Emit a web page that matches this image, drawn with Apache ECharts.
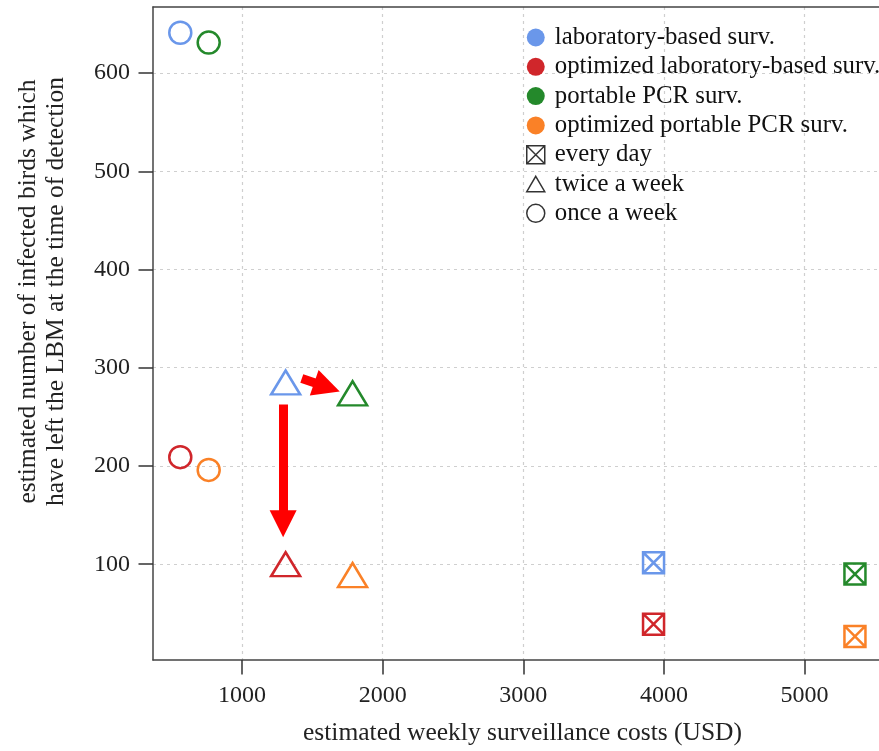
<!DOCTYPE html>
<html>
<head>
<meta charset="utf-8">
<script src="https://cdn.jsdelivr.net/npm/echarts@6/dist/echarts.min.js"></script>
<style>html,body{margin:0;padding:0;background:#fff;}#c{width:879px;height:751px;}</style>
</head>
<body>
<div id="c"></div>
<script>
// ---- data ----
var methods = ['laboratory-based surv.', 'optimized laboratory-based surv.', 'portable PCR surv.', 'optimized portable PCR surv.'];
var methodColors = ['#6a97ea', '#d0262b', '#24892b', '#fa8127'];
var frequencies = ['every day', 'twice a week', 'once a week'];
// [cost USD, infected birds left LBM] for [every day, twice a week, once a week]
var labBased      = [[3926, 101.5], [1310, 285], [561, 641]];
var optLabBased   = [[3926, 39],    [1310, 100], [561, 209]];
var portablePCR   = [[5358, 90],    [1786, 274], [763, 631]];
var optPortablePCR= [[5358, 26.5],  [1786, 89],  [763, 196]];
var xTicks = [1000, 2000, 3000, 4000, 5000];
var yTicks = [100, 200, 300, 400, 500, 600];
// arrows: [from, to] in data coordinates (to = centre of arrow head)
var arrowDown  = [[1292, 262.7], [1292, 141.2]];
var arrowRight = [[1425, 289.1], [1604, 280.3]];

var FONT = 'Liberation Serif';
var boxX = 'path://M0,0L20,0L20,20L0,20Z M0,0L20,20 M20,0L0,20';
var freqSymbols = [boxX, 'triangle', 'circle'];
var freqSizes = [21, [29, 24], 22];

function makeSeries(name, arr, color) {
  return {
    name: name, type: 'scatter',
    data: arr.map(function (p, i) {
      return { value: p, symbol: freqSymbols[i], symbolSize: freqSizes[i] };
    }),
    itemStyle: { color: 'rgba(0,0,0,0)', borderColor: color, borderWidth: 2.5, opacity: 1 },
    emphasis: { disabled: true },
    silent: true, z: 3
  };
}

var series = [
  makeSeries(methods[0], labBased, methodColors[0]),
  makeSeries(methods[1], optLabBased, methodColors[1]),
  makeSeries(methods[2], portablePCR, methodColors[2]),
  makeSeries(methods[3], optPortablePCR, methodColors[3])
];
frequencies.forEach(function (f) {
  series.push({ name: f, type: 'scatter', data: [], itemStyle: { color: 'rgba(0,0,0,0)', borderColor: '#000', borderWidth: 1.5 } });
});
series.push({
  type: 'scatter', data: [], silent: true,
  markLine: {
    silent: true, animation: false,
    symbol: ['none', 'triangle'],
    label: { show: false },
    emphasis: { disabled: true },
    data: [
      [{ coord: arrowDown[0], symbolSize: [27, 27], lineStyle: { width: 9 } }, { coord: arrowDown[1] }],
      [{ coord: arrowRight[0], symbolSize: [25, 26], lineStyle: { width: 9 } }, { coord: arrowRight[1] }]
    ],
    lineStyle: { color: '#ff0000', type: 'solid', width: 9, opacity: 1 },
    itemStyle: { color: '#ff0000' },
    symbolSize: [27, 27]
  }
});

var legendData = methods.map(function (m, i) {
  return { name: m, icon: 'circle', itemStyle: { color: methodColors[i], borderWidth: 0 } };
}).concat(frequencies.map(function (f, i) {
  return { name: f, icon: freqSymbols[i] === 'triangle' ? 'path://M10,0L20,17L0,17Z' : (freqSymbols[i] === 'circle' ? 'circle' : boxX),
           itemStyle: { color: 'rgba(0,0,0,0)', borderColor: '#000', borderWidth: 1.5 } };
}));

var axisLineStyle = { color: '#444', width: 1.5 };
var tickStyle = { show: true, inside: false, length: 14.5, lineStyle: { color: '#333', width: 1.5 } };
var splitStyle = { show: true, lineStyle: { color: '#cfcfcf', width: 1.2, type: [3, 4] } };
var plainNum = function (v) { return String(v); };

var chart = echarts.init(document.getElementById('c'), null, { renderer: 'canvas' });
chart.setOption({
  animation: false,
  backgroundColor: '#fff',
  grid: { left: 153, top: 7, right: 0, bottom: 85, show: false, containLabel: false },
  xAxis: [{
    type: 'value', position: 'bottom',
    min: 367, max: 5529,
    name: 'estimated weekly surveillance costs (USD)',
    nameLocation: 'middle', nameGap: 60,
    nameTextStyle: { fontFamily: FONT, fontSize: 25.5, color: '#222', padding: [0, 0, 0, 13] },
    axisLine: { show: true, onZero: false, lineStyle: axisLineStyle },
    axisTick: Object.assign({}, tickStyle, { customValues: xTicks }),
    axisLabel: { customValues: xTicks, formatter: plainNum, fontFamily: FONT, fontSize: 24, color: '#222', margin: 24 },
    splitLine: splitStyle
  }, {
    type: 'value', position: 'top',
    min: 367, max: 5529,
    axisLine: { show: true, onZero: false, lineStyle: axisLineStyle },
    axisTick: { show: false }, axisLabel: { show: false }, splitLine: { show: false }
  }],
  yAxis: {
    type: 'value',
    min: 2.5, max: 667.2,
    name: 'estimated number of infected birds which\nhave left the LBM at the time of detection',
    nameLocation: 'middle', nameGap: 83,
    nameTextStyle: { fontFamily: FONT, fontSize: 25.5, color: '#222', lineHeight: 28, padding: [0, 0, 0, 84] },
    axisLine: { show: true, onZero: false, lineStyle: axisLineStyle },
    axisTick: Object.assign({}, tickStyle, { customValues: yTicks }),
    axisLabel: { customValues: yTicks, formatter: plainNum, fontFamily: FONT, fontSize: 24, color: '#222', margin: 23 },
    splitLine: splitStyle
  },
  legend: {
    orient: 'vertical', left: 521, top: 20,
    itemWidth: 18, itemHeight: 18, itemGap: 4.3,
    selectedMode: false,
    textStyle: { fontFamily: FONT, fontSize: 24.8, color: '#111', lineHeight: 24, padding: [0, 0, 0, 5] },
    data: legendData
  },
  series: series
});
</script>
</body>
</html>
